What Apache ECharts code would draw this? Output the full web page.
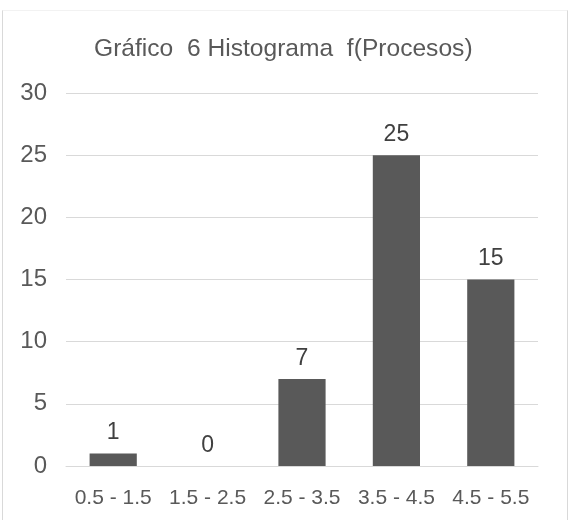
<!DOCTYPE html>
<html>
<head>
<meta charset="utf-8">
<script src="https://cdn.jsdelivr.net/npm/echarts@6/dist/echarts.min.js"></script>
<style>
  html, body { margin: 0; padding: 0; background: #ffffff; }
  #chart { width: 569px; height: 520px; }
</style>
</head>
<body>
<div id="chart"></div>
<script>
// Histogram bins (class intervals) and frequencies
const categories = ['0.5 - 1.5', '1.5 - 2.5', '2.5 - 3.5', '3.5 - 4.5', '4.5 - 5.5'];
const frequencies = [1, 0, 7, 25, 15];
const yTicks = [0, 5, 10, 15, 20, 25, 30];

const chart = echarts.init(document.getElementById('chart'), null, { renderer: 'canvas' });

const fontFamily = '"Liberation Sans", Arial, sans-serif';

chart.setOption({
  animation: false,
  backgroundColor: '#ffffff',
  title: {
    text: 'Gráfico  6 Histograma  f(Procesos)',
    left: 89,
    top: 32,
    textStyle: {
      fontFamily: fontFamily,
      fontSize: 24.6,
      fontWeight: 'normal',
      color: '#595959'
    }
  },
  graphic: [
    // chart frame
    { type: 'line', shape: { x1: 2.5, y1: 10, x2: 2.5, y2: 520 }, style: { stroke: '#d9d9d9', lineWidth: 1 } },
    { type: 'line', shape: { x1: 567.5, y1: 10, x2: 567.5, y2: 520 }, style: { stroke: '#d9d9d9', lineWidth: 1 } },
    { type: 'line', shape: { x1: 2.5, y1: 10.5, x2: 567.5, y2: 10.5 }, style: { stroke: '#f2f2f2', lineWidth: 1 } }
  ],
  grid: {
    left: 66,
    right: 31,
    top: 93,
    bottom: 54,
    containLabel: false
  },
  xAxis: {
    type: 'category',
    data: categories,
    axisLine: { show: true, lineStyle: { color: '#d9d9d9', width: 1 } },
    axisTick: { show: false },
    axisLabel: {
      interval: 0,
      margin: 22,
      fontFamily: fontFamily,
      fontSize: 21,
      color: '#595959'
    }
  },
  yAxis: {
    type: 'value',
    min: yTicks[0],
    max: yTicks[yTicks.length - 1],
    interval: 5,
    axisLine: { show: false },
    axisTick: { show: false },
    splitLine: { lineStyle: { color: '#d9d9d9', width: 1 } },
    axisLabel: {
      margin: 19,
      fontFamily: fontFamily,
      fontSize: 24,
      color: '#595959'
    }
  },
  series: [{
    type: 'bar',
    data: frequencies,
    barWidth: '50%',
    itemStyle: { color: '#595959' },
    label: {
      show: true,
      position: 'top',
      distance: 9,
      fontFamily: fontFamily,
      fontSize: 23,
      color: '#404040'
    }
  }]
});
</script>
</body>
</html>
